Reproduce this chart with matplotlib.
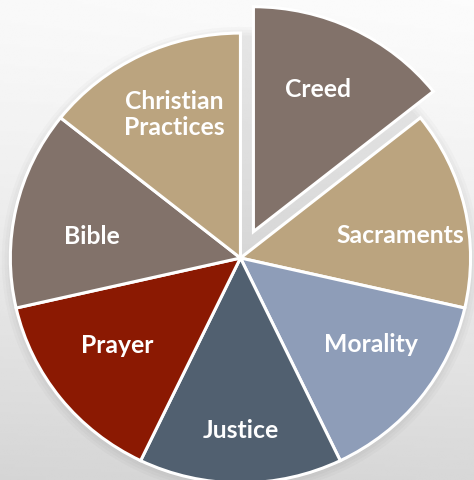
import numpy as np
import matplotlib.pyplot as plt

# データ（7つの等しい区分）
labels = ["Creed", "Sacraments", "Morality", "Justice", "Prayer", "Bible",
          "Christian\nPractices"]
values = [1, 1, 1, 1, 1, 1, 1]
colors = ["#82726A", "#BBA47F", "#8E9DB8", "#516070", "#8B1902", "#82726A",
          "#BBA47F"]
explode = [0.13, 0, 0, 0, 0, 0, 0]

# ラベル位置の微調整（半径, 角度のずれ）
label_r = [0.69, 0.70, 0.685, 0.765, 0.66, 0.655, 0.70]
label_dtheta = [1.7, -4.8, 4.2, 0.0, -2.6, 4.3, -1.4]

fig = plt.figure(figsize=(4.74, 4.80), dpi=100)

# 背景のグラデーション（上が明るい）
bg = fig.add_axes([0, 0, 1, 1])
yy, xx = np.mgrid[0:1:200j, 0:1:200j]
grad = 0.975 - 0.14 * yy ** 1.3 + 0.01 * xx
bg.imshow(grad, cmap="gray", vmin=0, vmax=1, extent=[0, 1, 0, 1],
          aspect="auto", origin="upper")
bg.axis("off")

ax = fig.add_axes([0, 0, 1, 1])
ax.patch.set_alpha(0)

# 薄い影
for k in range(4):
    sh = plt.matplotlib.patches.Ellipse((0.0, -0.01), 2.0 + 0.025 * k,
                                        2.0 + 0.025 * k, color="black",
                                        alpha=0.02, lw=0)
    ax.add_patch(sh)

wedges, texts = ax.pie(values, labels=labels, colors=colors, explode=explode,
                       startangle=90, counterclock=False, labeldistance=0.7,
                       wedgeprops=dict(edgecolor="white", linewidth=2.2),
                       textprops=dict(color="white", fontsize=17.8,
                                      fontweight="bold", family="Lato"))
for w, t, r, dth in zip(wedges, texts, label_r, label_dtheta):
    ang = np.deg2rad((w.theta1 + w.theta2) / 2 + dth)
    cx, cy = w.center
    t.set_position((cx + r * np.cos(ang), cy + r * np.sin(ang)))
    t.set_ha("center")
    t.set_va("center")
    t.set_linespacing(1.18)

ax.set_aspect("auto")
ax.set_xlim(-1.045, 1.015)
ax.set_ylim(-0.987, 1.147)
ax.axis("off")

fig.savefig("out.png", dpi=100)
